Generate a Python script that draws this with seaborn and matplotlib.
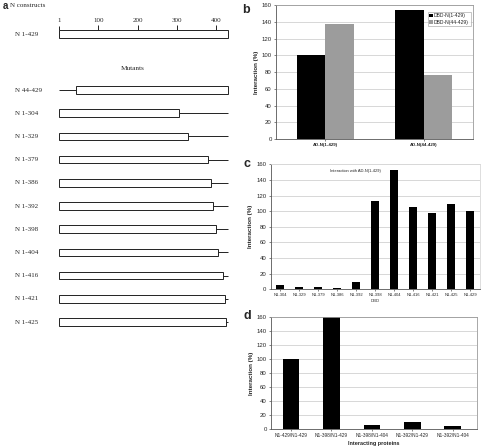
import matplotlib
matplotlib.use("Agg")
import matplotlib.pyplot as plt
import seaborn as sns
import pandas as pd

# ---------------- data ----------------
full_length = 429
wt_label = "N 1-429"
mutant_labels = ["N 44-429", "N 1-304", "N 1-329", "N 1-379", "N 1-386", "N 1-392",
                 "N 1-398", "N 1-404", "N 1-416", "N 1-421", "N 1-425"]
construct_starts = [1, 44, 1, 1, 1, 1, 1, 1, 1, 1, 1, 1]
construct_ends = [429, 429, 304, 329, 379, 386, 392, 398, 404, 416, 421, 425]
ruler_ticks = [1, 100, 200, 300, 400]

b_categories = ["AD-N(1-429)", "AD-N(44-429)"]
b_series = ["DBD-N(1-429)", "DBD-N(44-429)"]
b_values_s1 = [100, 154]
b_values_s2 = [137, 77]

c_labels = ["N1-304", "N1-329", "N1-379", "N1-386", "N1-392", "N1-398",
            "N1-404", "N1-416", "N1-421", "N1-425", "N1-429"]
c_values = [5, 3, 3, 2, 9, 113, 153, 105, 98, 109, 100]

d_labels = ["N1-429/N1-429", "N1-398/N1-429", "N1-398/N1-404",
            "N1-392/N1-429", "N1-392/N1-404"]
d_values = [100, 160, 5, 10, 4]

# ---------------- layout helpers ----------------
W, H = 482, 448
sns.set_theme(style="white")
plt.rcParams["font.family"] = ["Liberation Sans", "DejaVu Sans"]

fig = plt.figure(figsize=(W / 100, H / 100), dpi=100)
fig.patch.set_facecolor("white")


def px(l, t, r, b):
    return [l / W, 1 - b / H, (r - l) / W, (b - t) / H]


def ftext(x, y, s, **kw):
    fig.text(x / W, 1 - y / H, s, **kw)


SERIF = ["Liberation Serif", "DejaVu Serif"]

# ---------------- panel a ----------------
ax_a = fig.add_axes(px(59.3, 0, 227.7, 448))
ax_a.set_xlim(1, full_length)
ax_a.set_ylim(448, 0)
ax_a.axis("off")

row_y = [34] + [90 + i * 23.2 for i in range(len(mutant_labels))]
labels_all = [wt_label] + mutant_labels
heights = [8] + [7.5] * len(mutant_labels)
for y, s, e, h, lab in zip(row_y, construct_starts, construct_ends, heights, labels_all):
    if s > 1:
        ax_a.hlines(y, 1, s, color="#222222", lw=0.7, clip_on=False)
    if e < full_length:
        ax_a.hlines(y, e, full_length, color="#222222", lw=0.7, clip_on=False)
    ax_a.barh(y, e - s, left=s, height=h, color="white", edgecolor="#222222",
              lw=0.7, clip_on=False)
    ftext(15, y, lab, fontsize=5, family=SERIF, va="center", ha="left")

# ruler
for t in ruler_ticks:
    top = 26.5 if t == 1 else 25
    ax_a.vlines(t, top, row_y[0] - heights[0] / 2, color="#222222", lw=0.7,
                clip_on=False)
    ax_a.text(t, 20, str(t), fontsize=5, family=SERIF, ha="center", va="center")

ftext(3, 6, "a", fontsize=7, fontweight="bold", va="center", ha="left")
ftext(10, 5.5, "N constructs", fontsize=5, family=SERIF, va="center", ha="left")
ftext(133, 68.5, "Mutants", fontsize=5.2, family=SERIF, va="center", ha="center")


def style_axis(ax, box_color="#9a9a9a"):
    ax.set_ylim(0, 160)
    ax.set_yticks(range(0, 161, 20))
    ax.yaxis.grid(True, color="#c8c8c8", lw=0.5)
    ax.set_axisbelow(True)
    for sp in ax.spines.values():
        sp.set_color(box_color)
        sp.set_linewidth(0.6)
    ax.spines["left"].set_color("#555555")
    ax.spines["bottom"].set_color("#555555")
    ax.tick_params(axis="y", labelsize=4.3, length=1.5, width=0.4, pad=1.5, left=True)
    ax.tick_params(axis="x", length=1.5, width=0.4, pad=1.5, bottom=True)


# ---------------- panel b ----------------
ax_b = fig.add_axes(px(276, 5, 473, 139))
df_b = pd.DataFrame({
    "construct": b_categories * 2,
    "series": [b_series[0]] * 2 + [b_series[1]] * 2,
    "value": b_values_s1 + b_values_s2,
})
sns.barplot(data=df_b, x="construct", y="value", hue="series",
            palette=["#000000", "#9c9c9c"], width=0.58, saturation=1,
            ax=ax_b, linewidth=0)
style_axis(ax_b)
ax_b.set_xlabel("")
ax_b.set_ylabel("Interaction (%)", fontsize=4.5, fontweight="bold", labelpad=2)
ax_b.tick_params(axis="x", labelsize=3.2)
for lab in ax_b.get_xticklabels():
    lab.set_fontweight("bold")
leg = ax_b.legend(loc="upper right", bbox_to_anchor=(1.0, 0.97), fontsize=3.6,
                  handlelength=0.7, handleheight=0.7, handletextpad=0.3,
                  borderpad=0.3, labelspacing=0.3, frameon=True, fancybox=False,
                  title=None)
leg.get_frame().set_edgecolor("#9a9a9a")
leg.get_frame().set_linewidth(0.5)
ftext(242, 10, "b", fontsize=9, fontweight="bold", va="center", ha="left")

# ---------------- panel c ----------------
ax_c = fig.add_axes(px(270.5, 164.3, 480, 289.3))
df_c = pd.DataFrame({"mutant": c_labels, "value": c_values})
sns.barplot(data=df_c, x="mutant", y="value", color="black", width=0.42,
            saturation=1, ax=ax_c, linewidth=0)
style_axis(ax_c, box_color="#d8d8d8")
ax_c.set_xlabel("DBD", fontsize=3, labelpad=1)
ax_c.set_ylabel("Interaction (%)", fontsize=4.5, fontweight="bold", labelpad=2)
ax_c.tick_params(axis="x", labelsize=3)
ax_c.text(0.405, 0.96, "Interaction with AD-N(1-429)", transform=ax_c.transAxes,
          fontsize=2.9, ha="center", va="top")
ftext(243, 164, "c", fontsize=9, fontweight="bold", va="center", ha="left")

# ---------------- panel d ----------------
ax_d = fig.add_axes(px(270.8, 316.7, 477, 429))
df_d = pd.DataFrame({"pair": d_labels, "value": d_values})
sns.barplot(data=df_d, x="pair", y="value", color="black", width=0.41,
            saturation=1, ax=ax_d, linewidth=0)
style_axis(ax_d)
ax_d.set_xlim(-0.5, 4.6)
ax_d.set_xlabel("Interacting proteins", fontsize=4, fontweight="bold", labelpad=2)
ax_d.set_ylabel("Interaction (%)", fontsize=4.5, fontweight="bold", labelpad=2)
ax_d.tick_params(axis="x", labelsize=3.4)
ftext(243, 316, "d", fontsize=9, fontweight="bold", va="center", ha="left")

fig.savefig("out.png", dpi=100, facecolor="white")
